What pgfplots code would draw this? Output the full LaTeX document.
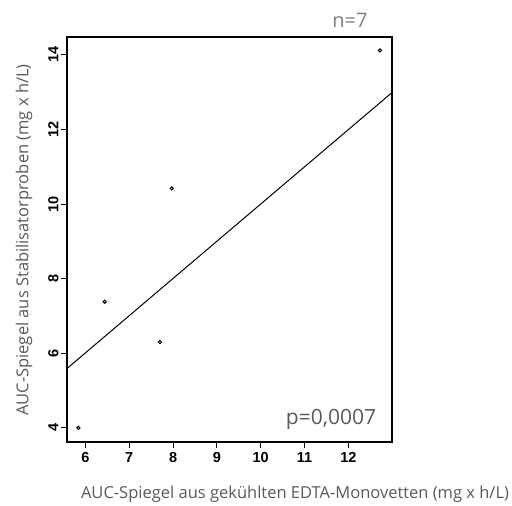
\documentclass[border=0pt]{standalone}
\usepackage{pgfplots}
\pgfplotsset{compat=1.18}
\usepackage{fontspec}
\setmainfont{Liberation Sans}
\newfontfamily\labelfont{Open Sans}
\definecolor{lblgray}{HTML}{595959}
\definecolor{ngray}{HTML}{808080}
\begin{document}
\begin{tikzpicture}[x=1pt,y=1pt]
\path[use as bounding box] (-67,-64) rectangle (445,442);
\begin{axis}[
  scale only axis,
  width=325pt, height=405pt,
  at={(0,0)}, anchor=south west,
  xmin=5.58, xmax=12.995,
  ymin=3.62, ymax=14.48,
  xtick={6,7,8,9,10,11,12},
  ytick={4,6,8,10,12,14},
  xtick pos=left, ytick pos=left,
  tick align=outside,
  major tick length=6pt,
  axis line style={line width=1.3pt},
  every tick/.style={black, line width=1pt},
  tick label style={font=\fontsize{14.5}{16}\selectfont\bfseries},
  xticklabel style={yshift=-1pt},
  yticklabel style={rotate=90, anchor=south, yshift=-1pt},
  /pgf/number format/assume math mode=true,
  clip=false,
]
\addplot[only marks, mark=o, mark size=1.6pt, line width=1pt, black]
  coordinates {(5.84,4.0) (6.44,7.38) (7.70,6.30) (7.97,10.42) (12.72,14.12)};
\addplot[black, line width=1pt] coordinates {(5.58,5.59) (12.995,12.99)};
\end{axis}
\node[font=\labelfont\fontsize{16.5}{18}\selectfont, text=lblgray] at (228,-52) {AUC-Spiegel aus gekühlten EDTA-Monovetten (mg x h/L)};
\node[font=\labelfont\fontsize{16.5}{18}\selectfont, text=lblgray, rotate=90] at (-43,202) {AUC-Spiegel aus Stabilisatorproben (mg x h/L)};
\node[font=\labelfont\fontsize{20}{22}\selectfont, text=ngray] at (283,422) {n=7};
\node[font=\labelfont\fontsize{21}{23}\selectfont, text=lblgray] at (264,23) {p=0,0007};
\end{tikzpicture}
\end{document}
